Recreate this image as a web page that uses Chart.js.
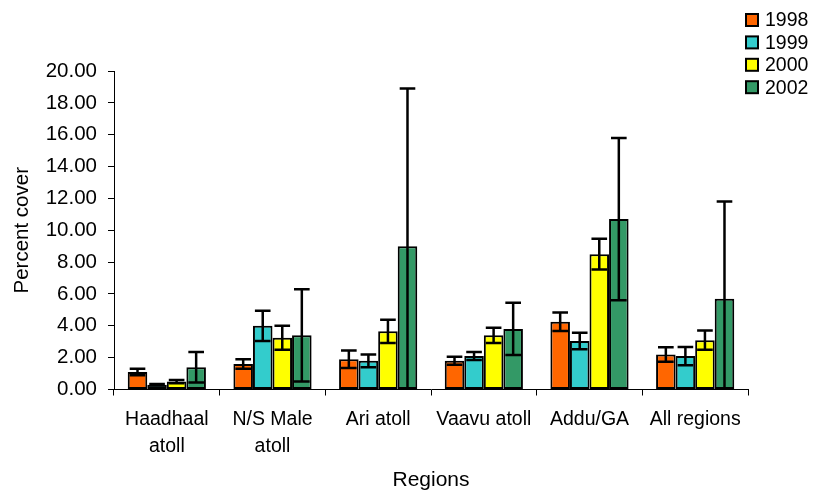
<!DOCTYPE html>
<html>
<head>
<meta charset="utf-8">
<script src="https://cdn.jsdelivr.net/npm/chart.js@4"></script>
<style>
  body { margin: 0; background: #fff; }
  #wrap { width: 813px; height: 493px; }
</style>
</head>
<body>
<div id="wrap"><canvas id="coverChart" width="813" height="493"></canvas></div>
<script>
const regions = [["Haadhaal", "atoll"], ["N/S Male", "atoll"], "Ari atoll", "Vaavu atoll", "Addu/GA", "All regions"];
const years = ["1998", "1999", "2000", "2002"];

// mean percent cover per region
const cover1998 = [1.10, 1.60, 1.90, 1.80, 4.25, 2.20];
const cover1999 = [0.30, 4.00, 1.80, 2.10, 3.05, 2.10];
const cover2000 = [0.50, 3.25, 3.65, 3.40, 8.50, 3.10];
const cover2002 = [1.40, 3.40, 9.00, 3.80, 10.70, 5.70];

// error (+/-)
const err1998 = [0.20, 0.30, 0.55, 0.25, 0.58, 0.45];
const err1999 = [0.05, 0.95, 0.40, 0.25, 0.52, 0.57];
const err2000 = [0.10, 0.75, 0.73, 0.48, 0.97, 0.60];
const err2002 = [0.96, 2.90, 9.90, 1.64, 5.10, 6.10];

const yTicks = [0, 2, 4, 6, 8, 10, 12, 14, 16, 18, 20];

const colors = ["#FF6600", "#33CCCC", "#FFFF00", "#339966"];
const allCover = [cover1998, cover1999, cover2000, cover2002];
const allErr = [err1998, err1999, err2000, err2002];

const fontFamily = "'Liberation Sans', Arial, sans-serif";

// error bars drawn from the y scale
const errorBars = {
    id: "errorBars",
    afterDatasetsDraw(chart) {
        const ctx = chart.ctx;
        const yScale = chart.scales.y;
        const area = chart.chartArea;
        ctx.save();
        ctx.beginPath();
        ctx.rect(area.left, area.top - 2, area.right - area.left, area.bottom - area.top + 2);
        ctx.clip();
        ctx.strokeStyle = "#000";
        ctx.lineWidth = 2.5;
        chart.data.datasets.forEach((ds, di) => {
            const meta = chart.getDatasetMeta(di);
            meta.data.forEach((bar, i) => {
                const v = ds.data[i];
                const e = ds.errors[i];
                const hi = yScale.getPixelForValue(v + e);
                const lowVal = v - e;
                const lo = yScale.getPixelForValue(Math.max(lowVal, 0));
                const cap = bar.width * 0.4;
                ctx.beginPath();
                ctx.moveTo(bar.x, hi);
                ctx.lineTo(bar.x, lo);
                ctx.moveTo(bar.x - cap, hi);
                ctx.lineTo(bar.x + cap, hi);
                if (lowVal > 0) {
                    ctx.moveTo(bar.x - cap, lo);
                    ctx.lineTo(bar.x + cap, lo);
                }
                ctx.stroke();
            });
        });
        ctx.restore();
    }
};

// legend at top right
const boxLegend = {
    id: "boxLegend",
    afterDraw(chart) {
        const ctx = chart.ctx;
        ctx.save();
        ctx.font = "19.5px " + fontFamily;
        ctx.textBaseline = "middle";
        ctx.textAlign = "left";
        chart.data.datasets.forEach((ds, i) => {
            const cy = 20 + i * 22.4;
            ctx.fillStyle = ds.backgroundColor;
            ctx.fillRect(746, cy - 6, 12, 12);
            ctx.strokeStyle = "#000";
            ctx.lineWidth = 2;
            ctx.strokeRect(746, cy - 6, 12, 12);
            ctx.fillStyle = "#000";
            ctx.fillText(ds.label, 765, cy + 1);
        });
        ctx.restore();
    }
};

const ctx = document.getElementById("coverChart").getContext("2d");
const coverChart = new Chart(ctx, {
    type: "bar",
    data: {
        labels: regions,
        datasets: years.map((yr, i) => ({
            label: yr,
            data: allCover[i],
            errors: allErr[i],
            backgroundColor: colors[i],
            borderColor: "#000",
            borderWidth: 2,
            borderSkipped: false,
            categoryPercentage: 0.74,
            barPercentage: 1.0,
        })),
    },
    options: {
        responsive: false,
        animation: false,
        layout: { padding: { left: 0, right: 65, top: 71, bottom: 0 } },
        plugins: {
            legend: { display: false },
            tooltip: { enabled: false },
        },
        scales: {
            x: {
                afterFit: (scale) => { scale.height = 103.5; },
                grid: { display: true, drawOnChartArea: false, tickLength: 6, color: "#000", offset: true },
                border: { color: "#000", width: 1 },
                ticks: {
                    color: "#000",
                    font: { family: fontFamily, size: 19.5, lineHeight: 1.38 },
                    padding: 11,
                    maxRotation: 0,
                    autoSkip: false,
                },
                title: {
                    display: true,
                    text: "Regions",
                    color: "#000",
                    font: { family: fontFamily, size: 21 },
                    padding: { bottom: 0, top: 0 },
                },
            },
            y: {
                min: 0,
                max: 20,
                afterFit: (scale) => { scale.width = 114; },
                afterBuildTicks: (scale) => { scale.ticks = yTicks.map(v => ({ value: v })); },
                grid: { display: true, drawOnChartArea: false, tickLength: 6, color: "#000" },
                border: { color: "#000", width: 1 },
                ticks: {
                    color: "#000",
                    font: { family: fontFamily, size: 20.5 },
                    padding: 11,
                    callback: (v) => Number(v).toFixed(2),
                },
                title: {
                    display: true,
                    text: "Percent cover",
                    color: "#000",
                    font: { family: fontFamily, size: 20.5 },
                    padding: { top: 10, bottom: 0 },
                },
            },
        },
    },
    plugins: [errorBars, boxLegend],
});
</script>
</body>
</html>
